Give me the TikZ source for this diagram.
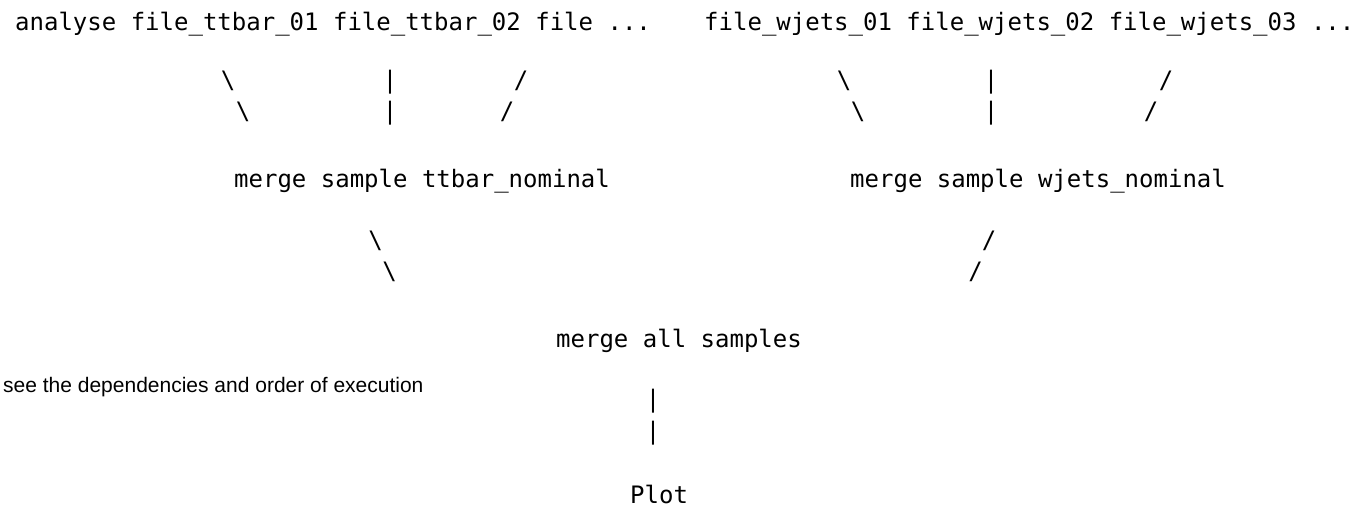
\documentclass[tikz,border=0pt]{standalone}
\usepackage{fontspec}
\setmonofont{DejaVu Sans Mono}
\setsansfont{Liberation Sans}
\begin{document}
\begin{tikzpicture}[x=1pt,y=-1pt,
  txt/.style={inner sep=0pt,anchor=base west,font=\ttfamily\fontsize{24}{24}\selectfont},
  glyph/.style={inner sep=0pt,anchor=base,font=\ttfamily\fontsize{24}{24}\selectfont},
  note/.style={inner sep=0pt,anchor=base west,font=\sffamily\fontsize{21}{21}\selectfont}]
\fill[white] (0,0) rectangle (1365,514);
\useasboundingbox (0,0) rectangle (1365,514);

% first line: the per-file analysis jobs
\node[txt] (ttfiles) at (15,30) {analyse file\_ttbar\_01 file\_ttbar\_02 file ...};
\node[txt] (wjfiles) at (704,30) {file\_wjets\_01 file\_wjets\_02 file\_wjets\_03 ...};

% ascii links from files to the sample merges
\node[glyph] (tA1) at (228,88) {\textbackslash};
\node[glyph] (tB1) at (390,88) {|};
\node[glyph] (tC1) at (521,88) {/};
\node[glyph] (tA2) at (243,119) {\textbackslash};
\node[glyph] (tB2) at (390,119) {|};
\node[glyph] (tC2) at (507,119) {/};
\node[glyph] (wA1) at (844,88) {\textbackslash};
\node[glyph] (wB1) at (991,88) {|};
\node[glyph] (wC1) at (1166,88) {/};
\node[glyph] (wA2) at (858,119) {\textbackslash};
\node[glyph] (wB2) at (991,119) {|};
\node[glyph] (wC2) at (1151,119) {/};

% sample merges
\node[txt] (ttmerge) at (234,187) {merge sample ttbar\_nominal};
\node[txt] (wjmerge) at (850,187) {merge sample wjets\_nominal};

% links to the final merge
\node[glyph] (tD1) at (375.5,248) {\textbackslash};
\node[glyph] (tD2) at (389.5,279) {\textbackslash};
\node[glyph] (wD1) at (989,248) {/};
\node[glyph] (wD2) at (975.5,279) {/};

\node[txt] (allmerge) at (556,347) {merge all samples};

\node[note] (caption) at (3,392) {see the dependencies and order of execution};

\node[glyph] (p1) at (653,407) {|};
\node[glyph] (p2) at (653,439) {|};

\node[txt] (plot) at (630,503) {Plot};
\end{tikzpicture}
\end{document}
